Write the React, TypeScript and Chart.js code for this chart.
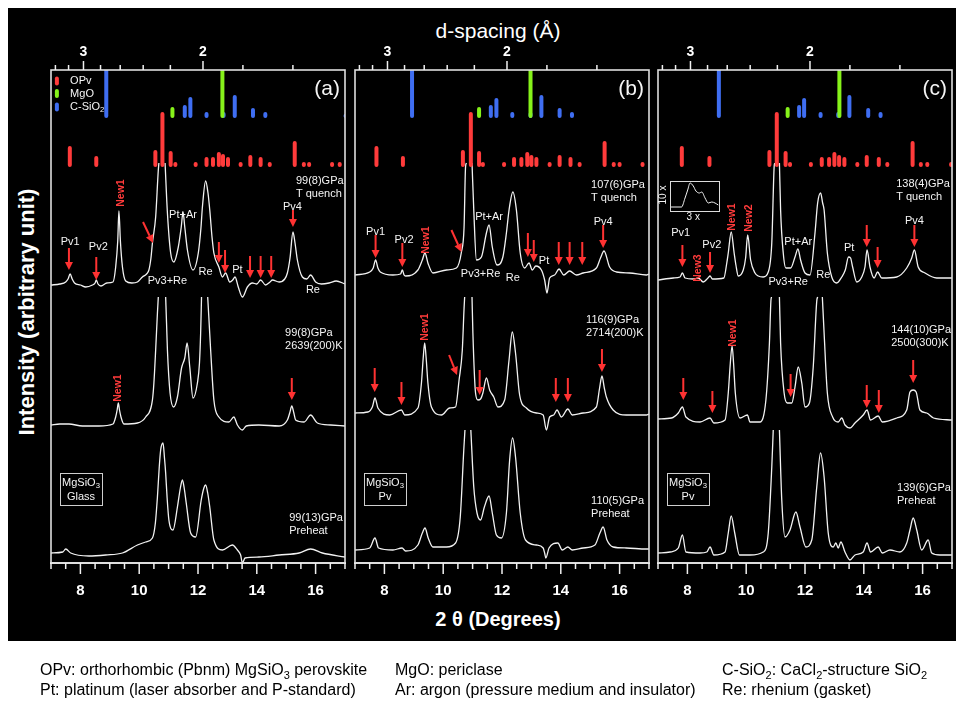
import React, { useEffect, useRef } from 'react';
import { Chart, registerables } from 'chart.js';

Chart.register(...registerables);

const FONT = '"Liberation Sans", Arial, Helvetica, sans-serif';
const WAVELENGTH = 0.424;
const X_MIN = 7;
const X_MAX = 17;
const Y_MAX = 493;
const X_TICK_STEP = 0.5;
const D_TICKS = [3.4, 3.2, 3.0, 2.8, 2.6, 2.4, 2.2, 2.0, 1.8, 1.6];
const D_LABELED = [3, 2];
const OPV_BASE = 398;
const PHASE_BASE = 447;

const RED = '#ff3b3b';
const GREEN = '#86f21a';
const BLUE = '#3f6ef2';
const ARROW = '#ff3232';

type Pt = [number, number | null];

// ---------- panel (a) ----------
const A_TOP: Pt[] = [[7.0,278],[7.3,279],[7.5,281],[7.58,284],[7.65,289],[7.72,284],[7.8,280],[8.0,278],[8.18,276],[8.41,278],[8.5,280],[8.54,283],[8.6,279],[8.7,277],[8.9,280],[9.11,281],[9.2,296],[9.27,322],[9.31,352],[9.36,322],[9.43,296],[9.54,282],[9.75,280],[9.94,281],[10.11,286],[10.25,289],[10.33,293],[10.4,305],[10.45,320],[10.56,346],[10.65,393],[10.67,400],[10.78,null],[10.88,400],[10.96,350],[11.07,310],[11.18,301],[11.33,316],[11.43,336],[11.49,351],[11.55,336],[11.64,313],[11.83,293],[12.01,310],[12.1,335],[12.15,356],[12.26,382],[12.34,370],[12.4,353],[12.48,325],[12.54,310],[12.71,296],[12.83,286],[12.94,290],[13.08,281],[13.18,283],[13.26,286],[13.37,276],[13.51,266],[13.68,276],[13.85,280],[14.0,279],[14.13,283],[14.3,278],[14.45,281],[14.53,283],[14.76,281],[14.95,284],[15.04,290],[15.13,305],[15.23,331],[15.3,320],[15.38,303],[15.55,286],[15.7,284],[15.83,288],[16.0,281],[16.2,279],[16.46,280],[16.7,282],[17.0,279]];
const A_MID: Pt[] = [[7.0,138],[7.3,139],[7.61,139],[8.07,137],[8.63,137],[9.11,139],[9.2,146],[9.25,153],[9.29,160],[9.33,153],[9.38,146],[9.48,139],[9.94,140],[10.22,146],[10.45,163],[10.5,180],[10.56,213],[10.62,250],[10.65,266],[10.78,null],[10.9,266],[10.93,240],[10.96,213],[11.05,170],[11.17,156],[11.3,166],[11.44,195],[11.55,205],[11.63,220],[11.72,196],[11.83,165],[11.98,180],[12.05,200],[12.09,230],[12.12,266],[12.23,null],[12.33,266],[12.37,245],[12.43,213],[12.54,163],[12.71,146],[13.05,141],[13.22,146],[13.34,138],[13.51,133],[13.64,137],[14.07,138],[14.76,137],[15.04,143],[15.12,150],[15.19,157],[15.26,150],[15.32,143],[15.61,141],[15.83,148],[16.06,140],[16.51,138],[17.0,137]];
const A_BOT: Pt[] = [[7.0,10],[7.4,11],[7.5,14],[7.67,10],[8.29,7],[8.86,8],[9.43,10],[9.94,18],[10.22,21],[10.45,25],[10.55,40],[10.62,66],[10.68,95],[10.73,113],[10.81,120],[10.86,105],[10.9,90],[10.95,65],[11.01,43],[11.15,33],[11.3,56],[11.4,75],[11.47,83],[11.53,75],[11.6,60],[11.75,30],[11.92,26],[12.11,63],[12.2,75],[12.26,78],[12.33,70],[12.4,56],[12.54,23],[12.83,13],[13.17,18],[13.34,13],[13.45,8],[13.51,0],[13.6,5],[14.07,6],[14.76,8],[15.44,10],[15.83,14],[16.23,10],[17.0,6]];
const A_OPV: [number, number][] = [[7.64,415],[8.54,405],[10.55,411],[10.79,449],[11.07,410],[11.23,399],[11.92,399],[12.29,404],[12.51,404],[12.71,409],[12.85,407],[13.02,404],[13.45,399],[13.78,406],[14.13,404],[14.44,399],[15.29,420],[15.6,399],[15.78,399],[16.56,399],[16.82,399]];
const A_MGO: [number, number][] = [[11.13,454],[12.83,493]];
const A_CSIO2: [number, number][] = [[8.88,493],[11.55,456],[11.74,464],[12.29,449],[12.87,449],[13.25,466],[13.87,453],[14.29,449],[17.02,460]];

// ---------- panel (b) ----------
const B_TOP: Pt[] = [[7.0,288],[7.5,291],[7.62,295],[7.7,303],[7.78,295],[7.86,291],[8.29,288],[8.55,289],[8.61,293],[8.67,288],[8.72,287],[9.14,293],[9.29,303],[9.38,310],[9.48,300],[9.65,290],[10.11,293],[10.45,295],[10.62,311],[10.71,336],[10.76,396],[10.79,400],[10.88,null],[10.98,400],[11.04,353],[11.13,303],[11.3,306],[11.47,330],[11.56,338],[11.67,316],[11.83,298],[12.03,306],[12.15,330],[12.24,353],[12.37,371],[12.49,353],[12.62,310],[12.77,295],[12.92,300],[13.03,293],[13.15,297],[13.34,293],[13.45,283],[13.53,270],[13.62,285],[13.79,288],[13.94,294],[14.1,288],[14.3,292],[14.53,288],[14.76,290],[15.21,295],[15.35,305],[15.47,312],[15.66,296],[15.89,291],[16.34,290],[16.91,288],[17.0,289]];
const B_MID: Pt[] = [[7.0,150],[7.44,151],[7.59,156],[7.68,165],[7.78,155],[8.18,148],[8.58,153],[8.69,148],[9.14,155],[9.26,180],[9.32,205],[9.37,220],[9.42,205],[9.48,180],[9.6,156],[9.94,148],[10.22,155],[10.42,156],[10.54,183],[10.65,213],[10.71,255],[10.73,266],[10.87,null],[10.98,266],[11.01,230],[11.1,170],[11.18,163],[11.27,164],[11.35,170],[11.47,185],[11.58,173],[11.72,166],[11.86,156],[12.09,163],[12.24,203],[12.35,231],[12.46,210],[12.6,168],[12.83,155],[13.17,150],[13.4,148],[13.51,133],[13.62,146],[13.76,148],[13.87,153],[14.02,146],[14.24,154],[14.39,148],[14.76,150],[15.21,156],[15.32,175],[15.4,187],[15.48,175],[15.55,166],[15.78,153],[16.23,148],[16.91,148],[17.0,149]];
const B_BOT: Pt[] = [[7.0,13],[7.5,15],[7.68,25],[7.8,15],[8.29,13],[8.6,15],[8.72,12],[9.14,18],[9.29,30],[9.38,35],[9.49,25],[9.65,16],[10.11,16],[10.42,20],[10.58,46],[10.7,113],[10.74,133],[10.9,null],[10.94,133],[11.04,76],[11.15,50],[11.27,43],[11.4,56],[11.56,67],[11.67,50],[11.81,28],[11.98,25],[12.15,50],[12.26,103],[12.36,125],[12.46,106],[12.62,50],[12.8,23],[13.17,18],[13.4,15],[13.45,10],[13.49,5],[13.6,15],[13.9,20],[14.05,13],[14.24,16],[14.39,13],[14.76,15],[15.16,18],[15.33,30],[15.44,36],[15.57,23],[15.78,16],[16.23,15],[16.91,14],[17.0,14]];
const B_OPV: [number, number][] = [[7.73,415],[8.63,405],[10.67,411],[10.94,449],[11.22,410],[11.35,399],[12.07,399],[12.41,404],[12.66,404],[12.86,409],[13.0,406],[13.17,404],[13.62,399],[13.96,406],[14.33,404],[14.64,399],[15.49,420],[15.8,399],[16.0,399],[16.78,399]];
const B_MGO: [number, number][] = [[11.22,454],[12.97,493]];
const B_CSIO2: [number, number][] = [[8.94,493],[11.62,456],[11.81,463],[12.35,449],[12.97,449],[13.34,466],[13.96,453],[14.38,449]];

// ---------- panel (c) ----------
const C_TOP: Pt[] = [[7.0,283],[7.52,285],[7.75,286],[7.83,290],[7.92,285],[8.2,284],[8.37,285],[8.54,281],[8.7,285],[8.77,287],[8.85,284],[9.24,285],[9.34,300],[9.39,310],[9.49,331],[9.59,310],[9.65,298],[9.73,287],[9.9,293],[9.98,305],[10.05,328],[10.15,303],[10.3,290],[10.41,287],[10.58,286],[10.75,291],[10.87,320],[10.95,396],[10.97,400],[11.05,null],[11.13,400],[11.17,353],[11.26,310],[11.35,295],[11.51,295],[11.66,306],[11.76,314],[11.85,303],[12.0,290],[12.17,288],[12.34,330],[12.43,360],[12.53,370],[12.6,360],[12.65,353],[12.76,310],[12.91,286],[13.08,280],[13.25,286],[13.37,293],[13.48,306],[13.55,305],[13.62,296],[13.76,281],[13.93,286],[14.04,296],[14.11,313],[14.21,296],[14.35,285],[14.47,291],[14.61,285],[15.12,286],[15.46,295],[15.63,305],[15.72,313],[15.85,296],[16.08,290],[16.48,285],[17.0,285]];
const C_MID: Pt[] = [[7.0,144],[7.46,145],[7.69,150],[7.83,156],[7.95,146],[8.43,141],[8.77,145],[8.9,140],[9.28,143],[9.39,170],[9.46,200],[9.52,217],[9.57,200],[9.63,170],[9.79,145],[10.04,148],[10.13,141],[10.47,141],[10.67,163],[10.79,220],[10.84,262],[10.86,266],[11.0,null],[11.13,266],[11.17,220],[11.29,170],[11.4,160],[11.55,160],[11.66,176],[11.77,196],[11.89,180],[12.0,156],[12.15,160],[12.28,196],[12.4,262],[12.43,266],[12.51,null],[12.59,266],[12.65,230],[12.76,170],[12.94,146],[13.13,141],[13.25,145],[13.36,138],[13.53,135],[13.7,140],[13.98,148],[14.11,153],[14.23,143],[14.49,147],[14.63,141],[15.12,145],[15.46,153],[15.57,171],[15.68,173],[15.78,171],[15.91,153],[16.14,150],[16.37,145],[17.0,143]];
const C_BOT: Pt[] = [[7.0,10],[7.41,11],[7.69,15],[7.83,28],[7.95,11],[8.43,10],[8.66,11],[8.77,16],[8.9,8],[9.28,11],[9.39,30],[9.49,47],[9.61,30],[9.77,8],[10.13,8],[10.58,11],[10.75,30],[10.87,96],[10.92,133],[11.05,null],[11.13,133],[11.21,63],[11.32,26],[11.49,33],[11.69,51],[11.83,36],[12.03,16],[12.23,23],[12.4,76],[12.53,110],[12.65,86],[12.79,30],[12.96,16],[13.05,20],[13.13,15],[13.22,21],[13.36,11],[13.53,3],[13.7,8],[13.98,11],[14.11,20],[14.23,11],[14.49,16],[14.63,10],[14.89,13],[15.23,11],[15.46,20],[15.57,33],[15.68,45],[15.8,33],[15.97,13],[16.19,23],[16.31,10],[16.59,8],[17.0,8]];
const C_INSET: Pt[] = [[7.44,356],[7.8,356],[7.92,365],[8.01,373],[8.09,380],[8.2,377],[8.29,372],[8.41,370],[8.49,371],[8.6,365],[8.71,360],[8.83,361],[8.94,360],[9.05,358]];
const C_OPV: [number, number][] = [[7.81,415],[8.75,405],[10.79,411],[11.04,449],[11.34,410],[11.49,399],[12.2,399],[12.57,404],[12.82,404],[13.0,409],[13.16,406],[13.34,404],[13.78,399],[14.1,406],[14.51,404],[14.8,399],[15.66,420],[15.94,399],[16.16,399],[16.97,399]];
const C_MGO: [number, number][] = [[11.41,454],[13.17,493]];
const C_CSIO2: [number, number][] = [[9.07,493],[11.8,456],[11.97,463],[12.53,449],[13.13,449],[13.51,466],[14.15,453],[14.57,449]];

// ---------- annotations (2θ, intensity units) ----------
const A_ARROWS = [[7.61,315,293],[8.54,306,283],[12.71,321,300],[12.92,313,290],[13.77,307,285],[14.13,307,285],[14.49,307,285],[15.23,353,336],[15.19,185,163]];
const A_DIAG = [[10.13,341,10.47,320]];
const A_LABELS: [string, number, number][] = [['Pv1',7.65,321],['Pv2',8.61,316],['Pt+Ar',11.49,348],['Pv3+Re',10.96,282],['Re',12.26,291],['Pt',13.34,293],['Pv4',15.21,356],['Re',15.91,273]];
const A_NEW: [string, number, number][] = [['New1',9.37,370],['New1',9.29,175]];
const A_COND: [string, string, number, number][] = [['99(8)GPa','T quench',15.33,382],['99(8)GPa','2639(200)K',14.96,230],['99(13)GPa','Preheat',15.1,45]];

const B_ARROWS = [[7.7,328,305],[8.61,320,296],[12.88,330,306],[13.08,323,301],[13.93,321,298],[14.3,321,298],[14.73,321,298],[15.44,338,315],[7.67,195,171],[8.58,181,158],[11.24,193,168],[13.83,185,161],[14.24,185,161],[15.4,214,191]];
const B_DIAG = [[10.28,333,10.62,311],[10.2,208,10.47,188]];
const B_LABELS: [string, number, number][] = [['Pv1',7.7,331],['Pv2',8.67,323],['Pt+Ar',11.56,346],['Pv3+Re',11.27,289],['Re',12.37,285],['Pt',13.43,302],['Pv4',15.44,341]];
const B_NEW: [string, number, number][] = [['New1',9.43,323],['New1',9.37,236]];
const B_COND: [string, string, number, number][] = [['107(6)GPa','T quench',15.03,378],['116(9)GPa','2714(200)K',14.86,243],['110(5)GPa','Preheat',15.03,62]];

const C_ARROWS = [[7.83,318,296],[8.77,311,290],[14.1,338,316],[14.47,316,295],[15.72,338,316],[7.86,185,163],[8.85,172,150],[11.51,189,166],[14.1,178,155],[14.51,173,150],[15.68,203,180]];
const C_DIAG: number[][] = [];
const C_LABELS: [string, number, number][] = [['Pv1',7.77,330],['Pv2',8.83,318],['Pt+Ar',11.77,321],['Pv3+Re',11.43,281],['Re',12.62,288],['Pt',13.5,315],['Pv4',15.72,342]];
const C_NEW: [string, number, number][] = [['New3',8.38,295],['New1',9.51,346],['New2',10.1,345],['New1',9.54,230]];
const C_COND: [string, string, number, number][] = [['138(4)GPa','T quench',15.1,379],['144(10)GPa','2500(300)K',14.93,233],['139(6)GPa','Preheat',15.13,75]];

const LEGEND_NAMES = ['OPv', 'MgO', 'C-SiO'];

const PANELS = [
  { id: 'a', left: 51, letter: '(a)', traces: [A_TOP, A_MID, A_BOT], opv: A_OPV, mgo: A_MGO, csio2: A_CSIO2, arrows: A_ARROWS, diag: A_DIAG, labels: A_LABELS, news: A_NEW, conds: A_COND, sample: 'Glass', legend: true, inset: null },
  { id: 'b', left: 355, letter: '(b)', traces: [B_TOP, B_MID, B_BOT], opv: B_OPV, mgo: B_MGO, csio2: B_CSIO2, arrows: B_ARROWS, diag: B_DIAG, labels: B_LABELS, news: B_NEW, conds: B_COND, sample: 'Pv', legend: false, inset: null },
  { id: 'c', left: 658, letter: '(c)', traces: [C_TOP, C_MID, C_BOT], opv: C_OPV, mgo: C_MGO, csio2: C_CSIO2, arrows: C_ARROWS, diag: C_DIAG, labels: C_LABELS, news: C_NEW, conds: C_COND, sample: 'Pv', legend: false, inset: C_INSET },
];

const twoTheta = (d: number) => (2 * Math.asin(WAVELENGTH / (2 * d)) * 180) / Math.PI;

const PAD = 6;
const CANVAS_W = 294 + PAD * 2;
const CANVAS_TOP = 36;
const CANVAS_H = 570;
const TOP_AXIS_H = 34;
const BOTTOM_AXIS_H = 43;

function drawArrow(ctx: CanvasRenderingContext2D, x1: number, y1: number, x2: number, y2: number) {
  const ang = Math.atan2(y2 - y1, x2 - x1);
  const hl = 8, hw = 4;
  const bx = x2 - hl * Math.cos(ang), by = y2 - hl * Math.sin(ang);
  ctx.strokeStyle = ARROW;
  ctx.fillStyle = ARROW;
  ctx.lineWidth = 2;
  ctx.beginPath();
  ctx.moveTo(x1, y1);
  ctx.lineTo(bx, by);
  ctx.stroke();
  ctx.beginPath();
  ctx.moveTo(x2, y2);
  ctx.lineTo(bx + hw * Math.sin(ang), by - hw * Math.cos(ang));
  ctx.lineTo(bx - hw * Math.sin(ang), by + hw * Math.cos(ang));
  ctx.closePath();
  ctx.fill();
}

function drawSub(ctx: CanvasRenderingContext2D, main: string, sub: string, x: number, y: number, size: number, align: string) {
  ctx.font = `${size}px ${FONT}`;
  const w1 = ctx.measureText(main).width;
  ctx.font = `${size * 0.7}px ${FONT}`;
  const w2 = ctx.measureText(sub).width;
  const total = w1 + w2;
  let sx = x;
  if (align === 'center') sx = x - total / 2;
  ctx.textAlign = 'left';
  ctx.textBaseline = 'middle';
  ctx.font = `${size}px ${FONT}`;
  ctx.fillText(main, sx, y);
  ctx.font = `${size * 0.7}px ${FONT}`;
  ctx.fillText(sub, sx + w1, y + size * 0.3);
}

function makeConfig(p: any) {
  const traceSets = p.traces.map((t: Pt[]) => ({
    data: t.map(([x, y]) => ({ x, y })),
    borderColor: '#f2f2f2',
    borderWidth: 1.3,
    pointRadius: 0,
    fill: false,
    cubicInterpolationMode: 'monotone',
    spanGaps: false,
  }));
  const bars = (list: [number, number][], base: number, color: string, label: string) => ({
    label,
    data: list.flatMap(([x, top]) => [{ x, y: base }, { x, y: top }, { x, y: null }]),
    borderColor: color,
    borderWidth: 4,
    borderCapStyle: 'round',
    pointRadius: 0,
    tension: 0,
    spanGaps: false,
    fill: false,
  });
  const datasets: any[] = [
    bars(p.opv, OPV_BASE, RED, 'OPv'),
    bars(p.mgo, PHASE_BASE, GREEN, 'MgO'),
    bars(p.csio2, PHASE_BASE, BLUE, 'C-SiO2'),
    ...traceSets,
  ];
  if (p.inset) {
    datasets.push({
      data: p.inset.map(([x, y]: Pt) => ({ x, y })),
      borderColor: '#f2f2f2', borderWidth: 1, pointRadius: 0, fill: false, cubicInterpolationMode: 'monotone',
    });
  }

  const annot = {
    id: 'annot' + p.id,
    afterDatasetsDraw(chart: any) {
      const { ctx, chartArea: ca, scales } = chart;
      const X = (v: number) => scales.x.getPixelForValue(v);
      const Y = (v: number) => scales.y.getPixelForValue(v);
      ctx.save();
      ctx.strokeStyle = '#dedede';
      ctx.lineWidth = 1.6;
      ctx.strokeRect(ca.left, ca.top, ca.right - ca.left, ca.bottom - ca.top);
      ctx.lineWidth = 2.2;
      ctx.beginPath();
      ctx.moveTo(ca.left - 1, ca.bottom);
      ctx.lineTo(ca.right + 1, ca.bottom);
      ctx.stroke();
      ctx.strokeStyle = '#f0f0f0';
      ctx.lineWidth = 1.5;
      scales.x.ticks.forEach((t: any) => {
        const px = X(t.value);
        const len = t.value % 2 === 0 ? 11 : 6;
        ctx.beginPath();
        ctx.moveTo(px, ca.bottom);
        ctx.lineTo(px, ca.bottom + len);
        ctx.stroke();
      });
      scales.x2.ticks.forEach((t: any, i: number) => {
        const px = X(t.value);
        const len = D_LABELED.includes(D_TICKS[i]) ? 9 : 5;
        ctx.beginPath();
        ctx.moveTo(px, ca.top);
        ctx.lineTo(px, ca.top - len);
        ctx.stroke();
      });
      p.arrows.forEach(([x, y1, y2]: number[]) => drawArrow(ctx, X(x), Y(y1), X(x), Y(y2)));
      p.diag.forEach(([x1, y1, x2, y2]: number[]) => drawArrow(ctx, X(x1), Y(y1), X(x2), Y(y2)));
      ctx.fillStyle = '#f4f4f4';
      ctx.font = `11px ${FONT}`;
      ctx.textAlign = 'center';
      ctx.textBaseline = 'middle';
      p.labels.forEach(([s, x, y]: [string, number, number]) => ctx.fillText(s, X(x), Y(y)));
      ctx.fillStyle = RED;
      ctx.font = `bold 10.5px ${FONT}`;
      p.news.forEach(([s, x, y]: [string, number, number]) => {
        ctx.save();
        ctx.translate(X(x), Y(y));
        ctx.rotate(-Math.PI / 2);
        ctx.fillText(s, 0, 0);
        ctx.restore();
      });
      ctx.fillStyle = '#f4f4f4';
      ctx.font = `11px ${FONT}`;
      ctx.textAlign = 'left';
      p.conds.forEach(([l1, l2, x, y]: [string, string, number, number]) => {
        ctx.fillText(l1, X(x), Y(y));
        ctx.fillText(l2, X(x), Y(y - 13));
      });
      ctx.strokeStyle = '#cfcfcf';
      ctx.lineWidth = 1;
      const bx1 = X(7.31), bx2 = X(8.73), by1 = Y(90), by2 = Y(58);
      ctx.strokeRect(Math.round(bx1) + 0.5, Math.round(by1) + 0.5, Math.round(bx2 - bx1), Math.round(by2 - by1));
      ctx.fillStyle = '#f4f4f4';
      drawSub(ctx, 'MgSiO', '3', (bx1 + bx2) / 2, Y(80), 11, 'center');
      ctx.font = `11px ${FONT}`;
      ctx.textAlign = 'center';
      ctx.fillText(p.sample, (bx1 + bx2) / 2, Y(66));
      ctx.font = `21px ${FONT}`;
      ctx.textAlign = 'right';
      ctx.fillText(p.letter, ca.right - 5, ca.top + 19);
      if (p.legend) {
        const colors = [RED, GREEN, BLUE];
        const ys = [482, 469.5, 456];
        ctx.lineCap = 'round';
        ctx.lineWidth = 4;
        colors.forEach((c, i) => {
          ctx.strokeStyle = c;
          ctx.beginPath();
          ctx.moveTo(X(7.2), Y(ys[i] + 2.5));
          ctx.lineTo(X(7.2), Y(ys[i] - 2.5));
          ctx.stroke();
        });
        ctx.fillStyle = '#f4f4f4';
        ctx.font = `11px ${FONT}`;
        ctx.textAlign = 'left';
        ctx.fillText(LEGEND_NAMES[0], X(7.65), Y(ys[0]));
        ctx.fillText(LEGEND_NAMES[1], X(7.65), Y(ys[1]));
        drawSub(ctx, LEGEND_NAMES[2], '2', X(7.65), Y(ys[2]), 11, 'left');
      }
      if (p.inset) {
        ctx.strokeStyle = '#dcdcdc';
        ctx.lineWidth = 1;
        const ix1 = X(7.41), ix2 = X(9.07), iy1 = Y(382), iy2 = Y(352);
        ctx.strokeRect(Math.round(ix1) + 0.5, Math.round(iy1) + 0.5, Math.round(ix2 - ix1), Math.round(iy2 - iy1));
        ctx.fillStyle = '#f4f4f4';
        ctx.font = `10px ${FONT}`;
        ctx.textAlign = 'center';
        ctx.fillText('3 x', X(8.2), Y(346));
        ctx.save();
        ctx.translate(X(7.18), Y(368));
        ctx.rotate(-Math.PI / 2);
        ctx.fillText('10 x', 0, 0);
        ctx.restore();
      }
      ctx.restore();
    },
  };

  return {
    type: 'line',
    data: { datasets },
    options: {
      animation: false,
      responsive: false,
      events: [],
      layout: { padding: { left: PAD, right: PAD, top: 0, bottom: 0 }, autoPadding: false },
      plugins: { legend: { display: false }, tooltip: { enabled: false } },
      scales: {
        x: {
          type: 'linear', position: 'bottom', min: X_MIN, max: X_MAX,
          grid: { display: false, drawTicks: true, tickLength: 19 }, border: { display: false },
          ticks: {
            stepSize: X_TICK_STEP, autoSkip: false, maxRotation: 0, padding: 0,
            color: '#ffffff', font: { family: FONT, size: 15, weight: 'bold' },
            callback: (v: number) => (v % 2 === 0 ? String(v) : ''),
          },
          afterFit: (s: any) => { s.height = BOTTOM_AXIS_H; },
        },
        x2: {
          type: 'linear', position: 'top', min: X_MIN, max: X_MAX,
          grid: { display: false, drawTicks: true, tickLength: 9 }, border: { display: false },
          afterBuildTicks: (s: any) => { s.ticks = D_TICKS.map((d) => ({ value: twoTheta(d) })); },
          ticks: {
            autoSkip: false, maxRotation: 0, padding: 0,
            color: '#ffffff', font: { family: FONT, size: 14, weight: 'bold' },
            callback: (_v: number, i: number) => (D_LABELED.includes(D_TICKS[i]) ? String(D_TICKS[i]) : ''),
          },
          afterFit: (s: any) => { s.height = TOP_AXIS_H; },
        },
        y: { type: 'linear', min: 0, max: Y_MAX, display: false },
      },
    },
    plugins: [annot],
  };
}

function Panel({ p }: { p: any }) {
  const ref = useRef<HTMLCanvasElement>(null);
  useEffect(() => {
    const chart = new Chart(ref.current as HTMLCanvasElement, makeConfig(p) as any);
    return () => chart.destroy();
  }, [p]);
  return (
    <canvas
      ref={ref}
      width={CANVAS_W}
      height={CANVAS_H}
      style={{ position: 'fixed', left: p.left - PAD, top: CANVAS_TOP, width: CANVAS_W, height: CANVAS_H }}
    />
  );
}

const fix = (o: any) => ({ position: 'fixed' as const, whiteSpace: 'nowrap' as const, ...o });

export default function App() {
  const legendStyle = { fontSize: 16, lineHeight: '16px', height: 16, color: '#000' };
  const sub = { fontSize: 11, verticalAlign: 'baseline', position: 'relative' as const, top: 4 };
  return (
    <div style={{ fontFamily: FONT }}>
      <style>{'html,body{overflow:hidden;}'}</style>
      <div style={{ position: 'fixed', left: 8, top: 8, right: 0, height: 633, background: '#000' }} />
      <div style={fix({ left: 298, width: 400, top: 19, textAlign: 'center', fontSize: 21, lineHeight: '24px', color: '#fff' })}>d-spacing (Å)</div>
      {PANELS.map((p) => <Panel key={p.id} p={p} />)}
      <div style={fix({ left: 298, width: 400, top: 607, textAlign: 'center', fontSize: 20, fontWeight: 'bold', lineHeight: '24px', color: '#fff' })}>2 θ (Degrees)</div>
      <div style={fix({ left: 27 - 150, top: 312 - 13, width: 300, height: 26, textAlign: 'center', fontSize: 22, fontWeight: 'bold', lineHeight: '26px', color: '#fff', transform: 'rotate(-90deg)' })}>Intensity (arbitrary unit)</div>
      <div style={fix({ left: 40, top: 662, ...legendStyle })}>OPv: orthorhombic (Pbnm) MgSiO<span style={sub}>3</span> perovskite</div>
      <div style={fix({ left: 40, top: 682, ...legendStyle })}>Pt: platinum (laser absorber and P-standard)</div>
      <div style={fix({ left: 395, top: 662, ...legendStyle })}>MgO: periclase</div>
      <div style={fix({ left: 395, top: 682, ...legendStyle })}>Ar: argon (pressure medium and insulator)</div>
      <div style={fix({ left: 722, top: 662, ...legendStyle })}>C-SiO<span style={sub}>2</span>: CaCl<span style={sub}>2</span>-structure SiO<span style={sub}>2</span></div>
      <div style={fix({ left: 722, top: 682, ...legendStyle })}>Re: rhenium (gasket)</div>
    </div>
  );
}
